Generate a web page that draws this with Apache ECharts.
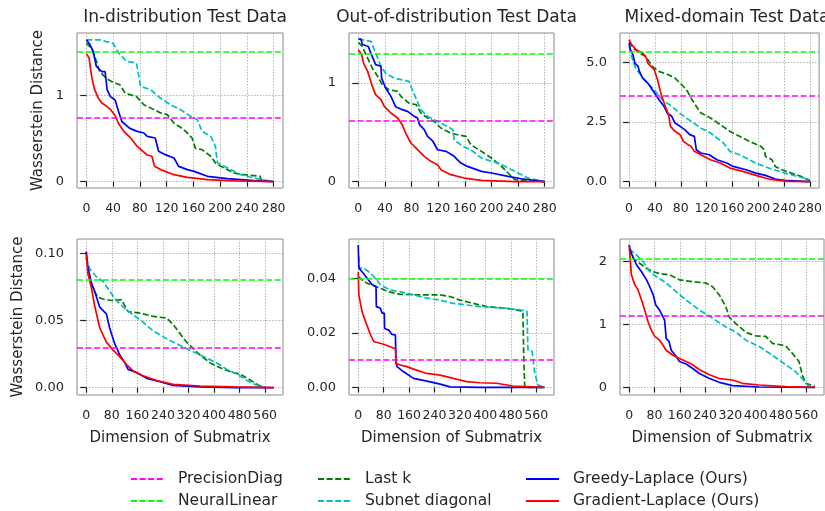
<!DOCTYPE html>
<html>
<head>
<meta charset="utf-8">
<script src="https://cdn.jsdelivr.net/npm/echarts@6/dist/echarts.min.js"></script>
<style>
  html, body { margin: 0; padding: 0; background: #fff; }
  #chart { width: 825px; height: 511px; }
</style>
</head>
<body>
<div id="chart"></div>
<script>
// tick labels / titles
const titles = ['In-distribution Test Data', 'Out-of-distribution Test Data', 'Mixed-domain Test Data']
const topXTicks = [0, 40, 80, 120, 160, 200, 240, 280]
const bottomXTicks = [0, 80, 160, 240, 320, 400, 480, 560]
const yTicks = [[0, 1], [0, 1], [0, 2.5, 5], [0, 0.05, 0.1], [0, 0.02, 0.04], [0, 1, 2]]
const yDecimals = [0, 0, 1, 2, 2, 0]

// horizontal baselines, one value per panel
const precisionDiag = [0.744, 0.618, 3.6, 0.0263, 0.0094, 1.14]
const neuralLinear = [1.508, 1.304, 5.43, 0.0768, 0.0391, 2.053]

// top row: in-distribution
const inTopGreedy = [[0,1.65],[5,1.6],[10,1.52],[15,1.34],[23,1.28],[28,1.28],[31,1.07],[36,0.99],[43,0.95],[48,0.82],[53,0.7],[65,0.62],[76,0.585],[86,0.566],[91,0.527],[103,0.508],[108,0.353],[118,0.314],[131,0.275],[138,0.178],[151,0.14],[161,0.12],[181,0.062],[211,0.035],[251,0.012],[280,0]]
const inTopGradient = [[0,1.49],[4,1.44],[8,1.22],[12,1.08],[18,0.97],[23,0.915],[30,0.88],[36,0.84],[43,0.77],[48,0.68],[56,0.585],[66,0.51],[76,0.41],[91,0.31],[98,0.295],[102,0.178],[111,0.14],[131,0.081],[151,0.05],[181,0.023],[221,0.008],[280,0]]
const inTopLastK = [[0,1.61],[8,1.55],[15,1.4],[20,1.28],[30,1.2],[40,1.155],[50,1.128],[58,1.03],[75,0.99],[86,0.895],[96,0.857],[111,0.8],[121,0.78],[131,0.68],[143,0.62],[151,0.566],[158,0.508],[163,0.39],[173,0.372],[186,0.295],[193,0.217],[201,0.178],[221,0.1],[236,0.081],[260,0.062],[261,0.023],[280,0]]
const inTopSubnet = [[0,1.65],[20,1.65],[40,1.61],[48,1.5],[60,1.4],[75,1.38],[81,1.11],[96,1.07],[111,0.97],[126,0.895],[141,0.837],[156,0.76],[166,0.72],[173,0.585],[186,0.527],[193,0.41],[196,0.217],[206,0.178],[216,0.14],[231,0.081],[251,0.043],[261,0.023],[280,0]]

// top row: out-of-distribution
const outTopGreedy = [[0,1.446],[4,1.446],[6,1.39],[15,1.37],[19,1.3],[26,1.186],[34,1.17],[35,1.05],[41,0.95],[49,0.865],[56,0.76],[66,0.73],[74,0.713],[84,0.662],[89,0.645],[92,0.578],[99,0.527],[104,0.46],[112,0.41],[119,0.324],[132,0.307],[144,0.257],[154,0.189],[164,0.155],[185,0.105],[200,0.088],[225,0.054],[245,0.03],[280,0]]
const outTopGradient = [[0,1.338],[5,1.287],[8,1.2],[14,1.118],[18,1.034],[21,0.966],[26,0.882],[34,0.831],[39,0.764],[49,0.696],[59,0.645],[66,0.578],[71,0.493],[79,0.392],[89,0.324],[99,0.257],[109,0.206],[119,0.172],[124,0.122],[139,0.071],[159,0.037],[185,0.0135],[235,0],[280,0]]
const outTopLastK = [[0,1.412],[6,1.37],[14,1.253],[21,1.152],[29,1.068],[36,0.983],[46,0.932],[59,0.916],[64,0.865],[76,0.797],[87,0.78],[94,0.696],[104,0.645],[114,0.61],[124,0.544],[139,0.493],[149,0.476],[162,0.46],[169,0.375],[185,0.307],[200,0.24],[215,0.155],[225,0.088],[235,0.02],[280,0]]
const outTopSubnet = [[0,1.446],[19,1.422],[26,1.304],[34,1.17],[41,1.1],[54,1.05],[76,1.017],[81,0.932],[94,0.73],[104,0.662],[119,0.611],[134,0.56],[142,0.527],[144,0.425],[157,0.358],[169,0.324],[185,0.24],[200,0.206],[210,0.189],[225,0.139],[240,0.088],[255,0.037],[280,0]]

// top row: mixed-domain
const mixTopGreedy = [[0,5.81],[2,5.53],[6,5.32],[9,4.97],[14,4.83],[16,4.62],[21,4.34],[29,4.13],[36,3.85],[41,3.65],[46,3.44],[54,3.16],[59,2.88],[66,2.74],[71,2.46],[79,2.32],[86,2.18],[94,1.97],[101,1.9],[104,1.34],[111,1.2],[124,1.13],[136,0.92],[151,0.78],[161,0.64],[181,0.5],[196,0.36],[211,0.265],[226,0.11],[246,0.04],[280,0]]
const mixTopGradient = [[0,5.95],[4,5.74],[11,5.53],[21,5.39],[26,5.22],[29,4.97],[34,4.83],[39,4.69],[44,4.27],[49,3.72],[56,3.16],[61,2.81],[64,2.32],[71,2.11],[79,1.97],[84,1.69],[91,1.55],[96,1.48],[101,1.27],[111,1.13],[126,0.92],[141,0.78],[156,0.57],[176,0.43],[196,0.265],[216,0.11],[246,0.014],[280,0]]
const mixTopLastK = [[0,5.88],[6,5.6],[16,5.39],[26,5.25],[36,4.83],[46,4.62],[61,4.48],[71,4.34],[79,4.13],[89,3.85],[96,3.5],[104,3.16],[111,2.88],[126,2.67],[141,2.39],[156,2.11],[171,1.9],[186,1.69],[204,1.48],[209,1.34],[211,1.06],[221,0.92],[226,0.64],[236,0.5],[251,0.36],[266,0.22],[280,0.04]]
const mixTopSubnet = [[0,5.67],[4,5.25],[9,4.83],[14,4.62],[24,4.27],[39,3.85],[51,3.44],[66,3.16],[81,2.81],[96,2.53],[111,2.25],[126,2.04],[136,1.83],[146,1.62],[156,1.27],[171,1.13],[186,0.92],[196,0.78],[216,0.57],[241,0.36],[261,0.22],[280,0.08]]

// bottom row: in-distribution
const inBotGreedy = [[0,0.1014],[5,0.09],[16,0.078],[26,0.072],[42,0.06],[63,0.055],[73,0.0446],[89,0.0327],[105,0.0243],[121,0.0184],[131,0.0136],[157,0.0112],[189,0.0069],[231,0.0045],[272,0.0017],[356,0.0005],[461,0],[587,0]]
const inBotGradient = [[0,0.0995],[5,0.085],[16,0.0745],[26,0.0613],[42,0.0446],[63,0.0339],[84,0.0279],[105,0.0231],[126,0.0172],[147,0.0124],[178,0.0088],[220,0.0053],[272,0.0024],[356,0.0012],[461,0.0005],[587,0]]
const inBotLastK = [[0,0.097],[10,0.083],[21,0.0733],[37,0.0673],[52,0.066],[79,0.0649],[110,0.0656],[131,0.0566],[168,0.0555],[210,0.053],[252,0.0518],[272,0.047],[314,0.0339],[356,0.0243],[388,0.0184],[430,0.0136],[461,0.0112],[482,0.01],[508,0.0064],[540,0.0017],[561,0]]
const inBotSubnet = [[0,0.097],[10,0.0888],[31,0.0828],[52,0.0792],[73,0.072],[94,0.0649],[126,0.0578],[168,0.0506],[210,0.0422],[252,0.0363],[293,0.0315],[335,0.0267],[377,0.022],[409,0.0184],[440,0.0136],[472,0.01],[503,0.0053],[535,0.0017],[556,0]]

// bottom row: out-of-distribution
const outBotGreedy = [[0,0.0522],[2,0.0437],[12,0.0424],[28,0.04],[44,0.0376],[56,0.037],[57,0.0296],[70,0.029],[75,0.0272],[82,0.0272],[83,0.0216],[96,0.021],[106,0.0194],[117,0.0192],[119,0.0094],[122,0.0076],[143,0.0057],[174,0.0033],[216,0.0023],[258,0.0012],[289,0.0002],[383,0],[586,0]]
const outBotGradient = [[0,0.0424],[2,0.0339],[12,0.0278],[23,0.0241],[39,0.0192],[49,0.0168],[80,0.0158],[101,0.0149],[117,0.0141],[119,0.0088],[132,0.0082],[153,0.0076],[174,0.0067],[216,0.0051],[258,0.0045],[299,0.0033],[341,0.0021],[383,0.0017],[435,0.0015],[487,0.0005],[586,0]]
const outBotLastK = [[0,0.0406],[12,0.0394],[28,0.0382],[70,0.0363],[101,0.0349],[132,0.0341],[195,0.0339],[258,0.0339],[289,0.0333],[320,0.032],[362,0.0308],[404,0.0296],[466,0.029],[498,0.0284],[518,0.0278],[521,0.0106],[524,0],[586,0]]
const outBotSubnet = [[2,0.048],[3,0.0437],[18,0.0437],[39,0.0418],[54,0.04],[70,0.0376],[101,0.0357],[132,0.0351],[174,0.0339],[216,0.0327],[258,0.032],[299,0.0308],[341,0.0302],[383,0.0296],[466,0.029],[508,0.0284],[531,0.028],[534,0.0137],[547,0.0133],[555,0.0057],[565,0.0009],[586,0]]

// bottom row: mixed-domain
const mixBotGreedy = [[0,2.26],[7,2.13],[23,1.95],[39,1.84],[55,1.71],[65,1.6],[76,1.47],[84,1.31],[96,1.23],[107,1.12],[112,1.07],[117,0.78],[126,0.73],[133,0.59],[149,0.49],[159,0.41],[180,0.37],[201,0.3],[222,0.22],[254,0.14],[285,0.08],[327,0.027],[411,0.005],[587,0]]
const mixBotGradient = [[0,2.27],[7,1.79],[18,1.63],[28,1.55],[39,1.39],[49,1.23],[60,1.04],[70,0.91],[81,0.81],[96,0.75],[107,0.67],[117,0.59],[138,0.51],[159,0.46],[180,0.41],[201,0.36],[222,0.28],[254,0.2],[285,0.14],[327,0.117],[358,0.064],[411,0.037],[495,0.011],[587,0]]
const mixBotLastK = [[0,2.2],[13,2.05],[34,1.97],[55,1.89],[76,1.84],[96,1.81],[128,1.79],[159,1.71],[201,1.68],[243,1.66],[264,1.6],[285,1.47],[306,1.28],[316,1.12],[338,1.01],[369,0.875],[400,0.82],[432,0.81],[453,0.7],[495,0.66],[516,0.54],[537,0.41],[547,0.2],[558,0.064],[587,0.02]]
const mixBotSubnet = [[0,2.2],[18,2.13],[44,2.0],[65,1.84],[86,1.76],[117,1.66],[149,1.52],[180,1.39],[222,1.23],[264,1.1],[306,0.96],[338,0.875],[369,0.75],[411,0.65],[453,0.51],[495,0.36],[526,0.25],[547,0.14],[563,0.037],[587,0]]

const panels = [
  { greedy: inTopGreedy, gradient: inTopGradient, lastK: inTopLastK, subnet: inTopSubnet },
  { greedy: outTopGreedy, gradient: outTopGradient, lastK: outTopLastK, subnet: outTopSubnet },
  { greedy: mixTopGreedy, gradient: mixTopGradient, lastK: mixTopLastK, subnet: mixTopSubnet },
  { greedy: inBotGreedy, gradient: inBotGradient, lastK: inBotLastK, subnet: inBotSubnet },
  { greedy: outBotGreedy, gradient: outBotGradient, lastK: outBotLastK, subnet: outBotSubnet },
  { greedy: mixBotGreedy, gradient: mixBotGradient, lastK: mixBotLastK, subnet: mixBotSubnet }
]

const font = 'DejaVu Sans'
const textColor = '#262626'
const dash = [6, 2.6]
const lw = 1.7

const gridPos = [
  { left: 77, top: 33, width: 206, height: 155 },
  { left: 349, top: 33, width: 205, height: 155 },
  { left: 620, top: 33, width: 204, height: 155 },
  { left: 77, top: 239, width: 206, height: 156 },
  { left: 349, top: 239, width: 205, height: 156 },
  { left: 620, top: 239, width: 204, height: 156 }
]
const xRange = [[-14, 294], [-14, 294], [-14, 294], [-29, 616], [-29, 616], [-29, 616]]
const yRange = [[-0.074, 1.73], [-0.064, 1.507], [-0.265, 6.23], [-0.0055, 0.1107], [-0.0028, 0.0544], [-0.122, 2.36]]

const chart = echarts.init(document.getElementById('chart'), null, { renderer: 'canvas' })

const grid = gridPos.map((g) => ({
  ...g,
  show: true,
  borderColor: '#8a8a8a',
  borderWidth: 1,
  backgroundColor: '#fff'
}))

const splitLine = {
  show: true,
  lineStyle: { color: '#b4b4b4', type: [1.5, 1.5], width: 1 }
}

const xAxis = gridPos.map((g, i) => {
  const ticks = i < 3 ? topXTicks : bottomXTicks
  return {
    type: 'value',
    gridIndex: i,
    min: xRange[i][0],
    max: xRange[i][1],
    name: i >= 3 ? 'Dimension of Submatrix' : '',
    nameLocation: 'middle',
    nameGap: 36,
    nameTextStyle: { fontFamily: font, fontSize: 15, color: textColor },
    axisLine: { show: false },
    axisTick: { show: true, length: 5, customValues: ticks, lineStyle: { color: '#222', width: 1.2 } },
    axisLabel: { customValues: ticks, margin: 14, fontFamily: font, fontSize: 12.5, color: textColor },
    splitLine: splitLine
  }
})

const yAxis = gridPos.map((g, i) => ({
  type: 'value',
  gridIndex: i,
  min: yRange[i][0],
  max: yRange[i][1],
  name: i === 0 || i === 3 ? 'Wasserstein Distance' : '',
  nameLocation: 'middle',
  nameGap: i === 0 ? 31 : 51,
  nameTextStyle: { fontFamily: font, fontSize: 15, color: textColor },
  axisLine: { show: false },
  axisTick: { show: true, length: 6, customValues: yTicks[i], lineStyle: { color: '#222', width: 1.2 } },
  axisLabel: {
    customValues: yTicks[i],
    margin: 13,
    fontFamily: font,
    fontSize: 13,
    color: textColor,
    formatter: (v) => Number(v).toFixed(yDecimals[i])
  },
  splitLine: splitLine
}))

const series = []
panels.forEach((p, i) => {
  const base = { type: 'line', xAxisIndex: i, yAxisIndex: i, symbol: 'none', silent: true, animation: false }
  const hline = (name, value, color) => ({
    ...base,
    name,
    color,
    data: [],
    lineStyle: { color, width: lw, type: dash },
    markLine: {
      silent: true,
      symbol: ['none', 'none'],
      label: { show: false },
      animation: false,
      lineStyle: { color, width: lw, type: dash },
      data: [{ yAxis: value }]
    }
  })
  series.push(hline('PrecisionDiag', precisionDiag[i], '#ff00ff'))
  series.push(hline('NeuralLinear', neuralLinear[i], '#00ff00'))
  series.push({ ...base, name: 'Last k', color: '#008000', data: p.lastK, lineStyle: { color: '#008000', width: lw, type: dash } })
  series.push({ ...base, name: 'Subnet diagonal', color: '#00bfbf', data: p.subnet, lineStyle: { color: '#00bfbf', width: lw, type: dash } })
  series.push({ ...base, name: 'Greedy-Laplace (Ours)', color: '#0000ff', data: p.greedy, lineStyle: { color: '#0000ff', width: lw } })
  series.push({ ...base, name: 'Gradient-Laplace (Ours)', color: '#ff0000', data: p.gradient, lineStyle: { color: '#ff0000', width: lw } })
})

// matplotlib style legend: 3 columns x 2 rows, one legend per entry
const legendNames = [
  ['PrecisionDiag', 'NeuralLinear'],
  ['Last k', 'Subnet diagonal'],
  ['Greedy-Laplace (Ours)', 'Gradient-Laplace (Ours)']
]
const legendLeft = [130, 317, 525]
const legendTop = [471, 493]
const legend = []
legendNames.forEach((col, c) => {
  col.forEach((name, r) => {
    legend.push({
      data: [name],
      left: legendLeft[c],
      top: legendTop[r],
      padding: 0,
      itemWidth: 33,
      itemHeight: 14,
      selectedMode: false,
      itemStyle: { opacity: 0 },
      textStyle: { fontFamily: font, fontSize: 15.5, color: textColor, padding: [0, 0, 0, 9] }
    })
  })
})

let option = {
  animation: false,
  backgroundColor: '#fff',
  title: titles.map((t, i) => ({
    text: t,
    left: gridPos[i].left + gridPos[i].width / 2,
    top: 4,
    textAlign: 'center',
    textStyle: { fontFamily: font, fontSize: 17, fontWeight: 'normal', color: textColor }
  })),
  legend: legend,
  grid: grid,
  xAxis: xAxis,
  yAxis: yAxis,
  series: series
}

option && chart.setOption(option)
</script>
</body>
</html>
